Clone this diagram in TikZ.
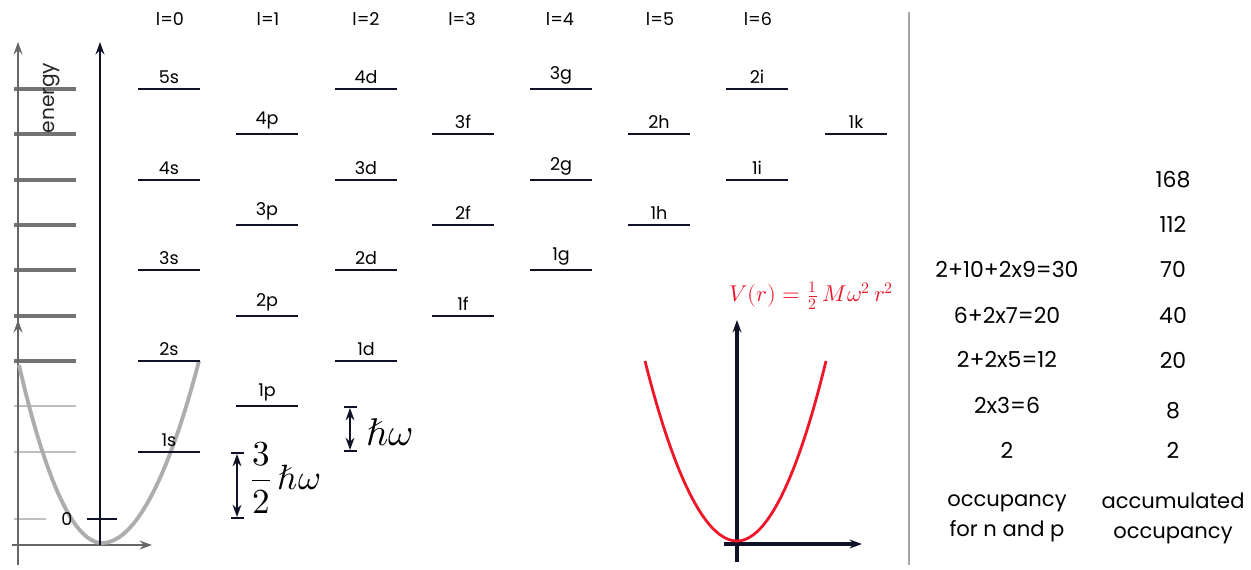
\documentclass[tikz,border=0pt]{standalone}
\usepackage{fontspec}
\usepackage{amsmath}
\usepackage{unicode-math}
\setmainfont{Poppins}
\setmathfont{Latin Modern Math}
\usetikzlibrary{arrows.meta}
\definecolor{inkdark}{RGB}{16,18,40}
\definecolor{curvered}{RGB}{238,22,40}

\begin{document}
\begin{tikzpicture}[x=0.02cm,y=-0.02cm,
        >={Stealth[length=7pt,width=5pt]},
        level/.style={draw=inkdark, line width=1.1pt},
        lvllabel/.style={font=\fontsize{10}{12}\selectfont, inner sep=1pt, anchor=south},
        headlabel/.style={font=\fontsize{10}{12}\selectfont, inner sep=1pt},
        occlabel/.style={font=\fontsize{12.5}{17}\selectfont, inner sep=1pt, align=center},
        greytick/.style={draw=black!55, line width=2.3pt},
        lighttick/.style={draw=black!25, line width=1.6pt},
        greyaxis/.style={draw=black!60, line width=1.6pt},
        darkaxis/.style={draw=inkdark, line width=1.5pt},
        ]
        \useasboundingbox (0,0) rectangle (1251,569);

        % faded energy picture
        \foreach \y in {89,134,180,225,270,316,361}
            \draw[greytick] (14,\y) -- (76,\y);
        \draw[lighttick] (14,406) -- (76,406);
        \draw[lighttick] (14,452) -- (76,452);
        \draw[lighttick] (14,519) -- (46,519);
        \coordinate (g-low) at (18,565);
        \coordinate (g-top) at (18,42);
        \coordinate (g-base) at (18,545);
        \coordinate (g-mid) at (18,320);
        \coordinate (g-left) at (12,545);
        \coordinate (g-right) at (152,545);
        \draw[greyaxis, ->] (g-low) -- (g-top);
        \draw[greyaxis, ->] (g-base) -- (g-mid);
        \draw[greyaxis, ->] (g-left) -- (g-right);
        \draw[draw=black!32, line width=2.2pt] (19,365) parabola bend (102,543) (199,361);
        \node (energy) [rotate=90, text=black!85, font=\fontsize{11.5}{13}\selectfont] at (52,98) {energy};

        % energy axis
        \coordinate (e-bot) at (100,545);
        \coordinate (e-top) at (100,42);
        \draw[darkaxis, ->] (e-bot) -- (e-top);
        \node (zero) [headlabel] at (67,519) {0};
        \coordinate (z-w) at (87,519);
        \coordinate (z-e) at (117,519);
        \draw[darkaxis, line width=1.1pt] (z-w) -- (z-e);

        % l headings
        \foreach \l/\x in {0/170,1/268,2/366,3/462,4/560,5/660,6/758}
            \node (head\l) [headlabel] at (\x,19) {l=\l};

        % levels
        \foreach \name/\x/\y in {5s/169/89, 4s/169/180, 3s/169/270, 2s/169/361, 1s/169/452,
                4p/267/134, 3p/267/225, 2p/267/316, 1p/267/406,
                4d/366/89, 3d/366/180, 2d/366/270, 1d/366/361,
                3f/463/134, 2f/463/225, 1f/463/316,
                3g/561/89, 2g/561/180, 1g/561/270,
                2h/659/134, 1h/659/225,
                2i/757/89, 1i/757/180,
                1k/856/134}{
            \coordinate (\name-w) at (\x-31,\y);
            \coordinate (\name-e) at (\x+31,\y);
            \draw[level] (\name-w) -- (\name-e);
            \node (\name) [lvllabel] at (\x,\y-3) {\name};
        }

        % spacings
        \coordinate (s1-top) at (237,452);
        \coordinate (s1-bot) at (237,519);
        \draw[darkaxis, line width=1.1pt, |<->|] (s1-top) -- (s1-bot);
        \node (s1) [anchor=west, inner sep=0pt, font=\fontsize{20}{24}\selectfont] at (250,478) {$\dfrac{3}{2}\,\hbar\omega$};
        \coordinate (s2-top) at (350,406);
        \coordinate (s2-bot) at (350,452);
        \draw[darkaxis, line width=1.1pt, |<->|] (s2-top) -- (s2-bot);
        \node (s2) [anchor=west, inner sep=0pt, font=\fontsize{22}{26}\selectfont] at (366,432) {$\hbar\omega$};

        % potential
        \coordinate (v-bot) at (737,562);
        \coordinate (v-top) at (737,320);
        \coordinate (h-left) at (724,544);
        \coordinate (h-right) at (862,544);
        \draw[darkaxis, line width=2pt, ->] (v-bot) -- (v-top);
        \draw[darkaxis, line width=2pt, ->] (h-left) -- (h-right);
        \draw[curvered, line width=1.6pt] (645,361) parabola bend (737,541) (826,361);
        \node (pot) [text=curvered, anchor=east, inner sep=0pt, font=\fontsize{13}{15}\selectfont] at (894,296) {$V(r)=\tfrac{1}{2}\,M\omega^{2}\,r^{2}$};

        % separator
        \coordinate (sep-top) at (909,12);
        \coordinate (sep-bot) at (909,565);
        \draw[black!35, line width=0.8pt] (sep-top) -- (sep-bot);

        % occupancies
        \node (o5) [occlabel] at (1007,269) {2+10+2x9=30};
        \node (o4) [occlabel] at (1007,315) {6+2x7=20};
        \node (o3) [occlabel] at (1007,359) {2+2x5=12};
        \node (o2) [occlabel] at (1007,405) {2x3=6};
        \node (o1) [occlabel] at (1007,450) {2};
        \node (ohead) [occlabel, font=\fontsize{12}{17}\selectfont] at (1007,518) {occupancy\\for n and p};
        \node (a7) [occlabel] at (1173,180) {168};
        \node (a6) [occlabel] at (1173,224) {112};
        \node (a5) [occlabel] at (1173,269) {70};
        \node (a4) [occlabel] at (1173,315) {40};
        \node (a3) [occlabel] at (1173,360) {20};
        \node (a2) [occlabel] at (1173,411) {8};
        \node (a1) [occlabel] at (1173,450) {2};
        \node (ahead) [occlabel, font=\fontsize{12}{17}\selectfont] at (1173,518) {accumulated\\occupancy};
    \end{tikzpicture}
\end{document}
